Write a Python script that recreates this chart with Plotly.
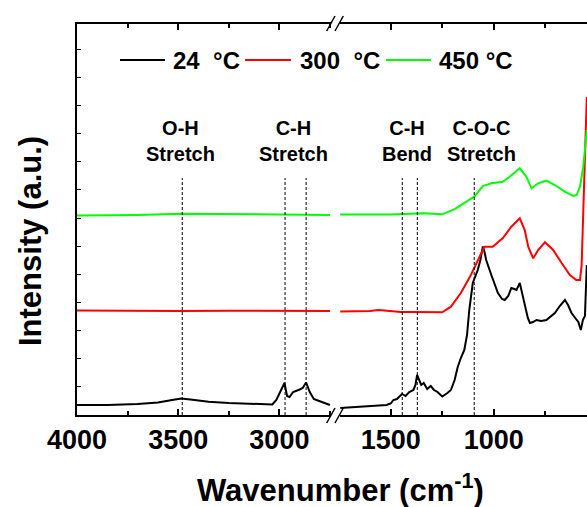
import plotly.graph_objects as go

# ---------------- data ----------------
# 24 °C (black)
wn_black_hi = [4000, 3850, 3700, 3600, 3530, 3485, 3440, 3350, 3250, 3150, 3035, 3015, 2995, 2975,
               2962, 2950, 2932, 2915, 2900, 2885, 2868, 2850, 2830, 2810, 2790, 2750]
int_black_hi = [10, 10, 11, 12.5, 15, 16.5, 15.5, 13.3, 12, 11.5, 10.5, 15, 23, 32,
                19, 18, 23, 24, 25.5, 27, 32.5, 23, 16, 14.5, 13, 10]
wn_black_lo = [1745, 1700, 1600, 1520, 1500, 1487, 1470, 1445, 1428, 1410, 1390, 1380, 1372, 1362,
               1352, 1340, 1323, 1306, 1290, 1273, 1250, 1225, 1208, 1190, 1175, 1160, 1143, 1130,
               1119, 1102, 1090, 1078, 1065, 1053, 1045, 1037, 1012, 995, 980, 960, 947, 930, 915,
               900, 890, 874, 860, 850, 835, 825, 810, 793, 770, 745, 725, 704, 680, 655, 640, 623,
               605, 590, 578, 568, 558, 553, 549]
int_black_lo = [7, 7.5, 9, 10, 11.5, 15, 16, 21, 19, 23, 25, 30, 40, 34,
                30, 32, 26, 29, 25, 23, 18.5, 22, 25, 35, 48, 57, 65, 80,
                105, 132, 138, 145, 155, 168.5, 163, 155, 140, 130, 122, 116, 115, 119, 127,
                126, 125, 132, 119, 108, 97, 92, 93, 95, 94, 95, 98, 102, 109, 115, 110, 102,
                97, 93, 85, 95, 99, 125, 150]

# 300 °C (red)
wn_red_hi = [4000, 3750, 3500, 3250, 3000, 2750]
int_red_hi = [104.5, 104, 104, 104.3, 104.5, 104]
wn_red_lo = [1745, 1600, 1560, 1500, 1450, 1400, 1300, 1250, 1208, 1160, 1111, 1078, 1046, 1005,
             956, 915, 874, 850, 833, 809, 785, 752, 712, 671, 631, 600, 582, 574, 566, 558, 553, 549]
int_red_lo = [103.5, 104, 105, 103.5, 103, 103, 103, 102.7, 108.3, 122, 140, 155, 168.3, 168.3,
              177, 188.3, 196.7, 185, 168.3, 156.7, 165, 172.7, 165, 152, 140, 135, 135, 150, 200, 265, 300, 318]

# 450 °C (green)
wn_green_hi = [4000, 3700, 3485, 3300, 3000, 2750]
int_green_hi = [199.5, 200, 201.3, 201, 200, 200]
wn_green_lo = [1745, 1500, 1340, 1250, 1192, 1143, 1095, 1053, 1012, 956, 923, 874, 842, 817,
               785, 745, 704, 655, 614, 598, 582, 566, 558, 549]
int_green_lo = [200.5, 200.5, 201.7, 200.7, 205.7, 211.7, 218.3, 229, 231.7, 233.3, 238.3, 246.7,
                238.3, 226.7, 231.7, 234.3, 230, 223.3, 219, 220, 228.3, 248.3, 265, 285]

series_names = ["24\u00a0\u00a0°C", "300\u00a0\u00a0°C", "450 °C"]
series_colors = ["#000000", "#ff0000", "#00ff00"]

# band assignments
band_labels = ["O-H<br>Stretch", "C-H<br>Stretch", "C-H<br>Bend", "C-O-C<br>Stretch"]
band_label_wn = [3490, 2928, 1421, 1061]
band_label_axis = ["x", "x", "x2", "x2"]
marker_lines_hi = [3480, 2972, 2868]
marker_lines_lo = [1444, 1371, 1095]
marker_top = 237

# ---------------- geometry ----------------
W, H = 587, 507
L, T, B = 77, 24, 92
PW = W - L
PH = H - T - B
def px2x(px):
    return (px - L) / PW
def py2y(py):
    return (H - B - py) / PH

d1 = px2x(331)
d2 = px2x(340)

fig = go.Figure()
hi_sets = [(wn_black_hi, int_black_hi), (wn_red_hi, int_red_hi), (wn_green_hi, int_green_hi)]
lo_sets = [(wn_black_lo, int_black_lo), (wn_red_lo, int_red_lo), (wn_green_lo, int_green_lo)]
for (xh, yh), (xl, yl), name, c in zip(hi_sets, lo_sets, series_names, series_colors):
    fig.add_trace(go.Scatter(x=xh, y=yh, xaxis="x", yaxis="y", mode="lines", name=name,
                             line=dict(color=c, width=2), showlegend=False))
    fig.add_trace(go.Scatter(x=xl, y=yl, xaxis="x2", yaxis="y", mode="lines", name=name,
                             line=dict(color=c, width=2), showlegend=False))

shapes = []
for w in marker_lines_hi:
    shapes.append(dict(type="line", xref="x", yref="y", x0=w, x1=w, y0=0, y1=marker_top,
                       line=dict(color="black", width=1, dash="3px,2px")))
for w in marker_lines_lo:
    shapes.append(dict(type="line", xref="x2", yref="y", x0=w, x1=w, y0=0, y1=marker_top,
                       line=dict(color="black", width=1, dash="3px,2px")))

# axis break slashes
for (ax0, ay0, ax1, ay1) in [(326.7, 423, 335, 408), (335, 423, 343.3, 408),
                             (326.7, 31, 335, 16), (335, 31, 343.3, 16)]:
    shapes.append(dict(type="line", xref="paper", yref="paper",
                       x0=px2x(ax0), y0=py2y(ay0), x1=px2x(ax1), y1=py2y(ay1),
                       line=dict(color="black", width=1.5)))

# manual legend
leg_y = py2y(60)
leg_lines = [(120, 165), (245, 291), (386, 431)]
leg_text_x = [171, 298, 437]
annotations = []
for (a, b), tx, name, c in zip(leg_lines, leg_text_x, series_names, series_colors):
    shapes.append(dict(type="line", xref="paper", yref="paper", x0=px2x(a), x1=px2x(b),
                       y0=leg_y, y1=leg_y, line=dict(color=c, width=2)))
    annotations.append(dict(text=name, xref="paper", yref="paper", x=px2x(tx), y=leg_y,
                            xanchor="left", yanchor="middle", showarrow=False,
                            font=dict(size=24, color="black", weight="bold")))

for t, w, ax in zip(band_labels, band_label_wn, band_label_axis):
    annotations.append(dict(text=t, xref=ax, yref="paper", x=w, y=py2y(141),
                            xanchor="center", yanchor="middle", showarrow=False,
                            font=dict(size=20, color="black", weight="bold")))

annotations.append(dict(text="Wavenumber (cm<sup>-1</sup>)", xref="paper", yref="paper",
                        x=px2x(340), y=py2y(488), xanchor="center", yanchor="middle",
                        showarrow=False, font=dict(size=31, color="black", weight="bold")))
annotations.append(dict(text="Intensity (a.u.)", xref="paper", yref="paper",
                        x=px2x(30), y=py2y(241), xanchor="center", yanchor="middle", textangle=-90,
                        showarrow=False, font=dict(size=31, color="black", weight="bold")))

xcommon = dict(showline=True, linewidth=2, linecolor="black", mirror="allticks",
               ticks="inside", ticklen=6, tickwidth=2, tickcolor="black", dtick=500, tick0=0,
               minor=dict(ticks="inside", ticklen=4, tickwidth=1.5, tickcolor="black", dtick=250, tick0=0),
               showgrid=False, zeroline=False, automargin=False,
               tickfont=dict(size=27, color="black", weight="bold"))

fig.update_layout(
    width=W, height=H,
    margin=dict(l=L, r=0, t=T, b=B, autoexpand=False),
    paper_bgcolor="white", plot_bgcolor="white",
    font=dict(family="Arial, Liberation Sans, sans-serif", color="black"),
    xaxis=dict(domain=[0, d1], range=[4000, 2745], anchor="y", **xcommon),
    xaxis2=dict(domain=[d2, 1], range=[1746, 548], anchor="y", **xcommon),
    yaxis=dict(range=[0, PH], showline=True, linewidth=2, linecolor="black", mirror=False,
               ticks="inside", ticklen=4, tickwidth=1, tickcolor="black", automargin=False,
               tick0=PH - (415 - 52.4), dtick=28.1, showticklabels=False,
               showgrid=False, zeroline=False),
    shapes=shapes, annotations=annotations, showlegend=False,
)

fig.write_html("out.html",
               config={"displayModeBar": False},
               post_script="document.body.style.margin='0';document.body.style.padding='0';"
                           "document.body.style.overflow='hidden';"
                           "document.documentElement.style.overflow='hidden';")
